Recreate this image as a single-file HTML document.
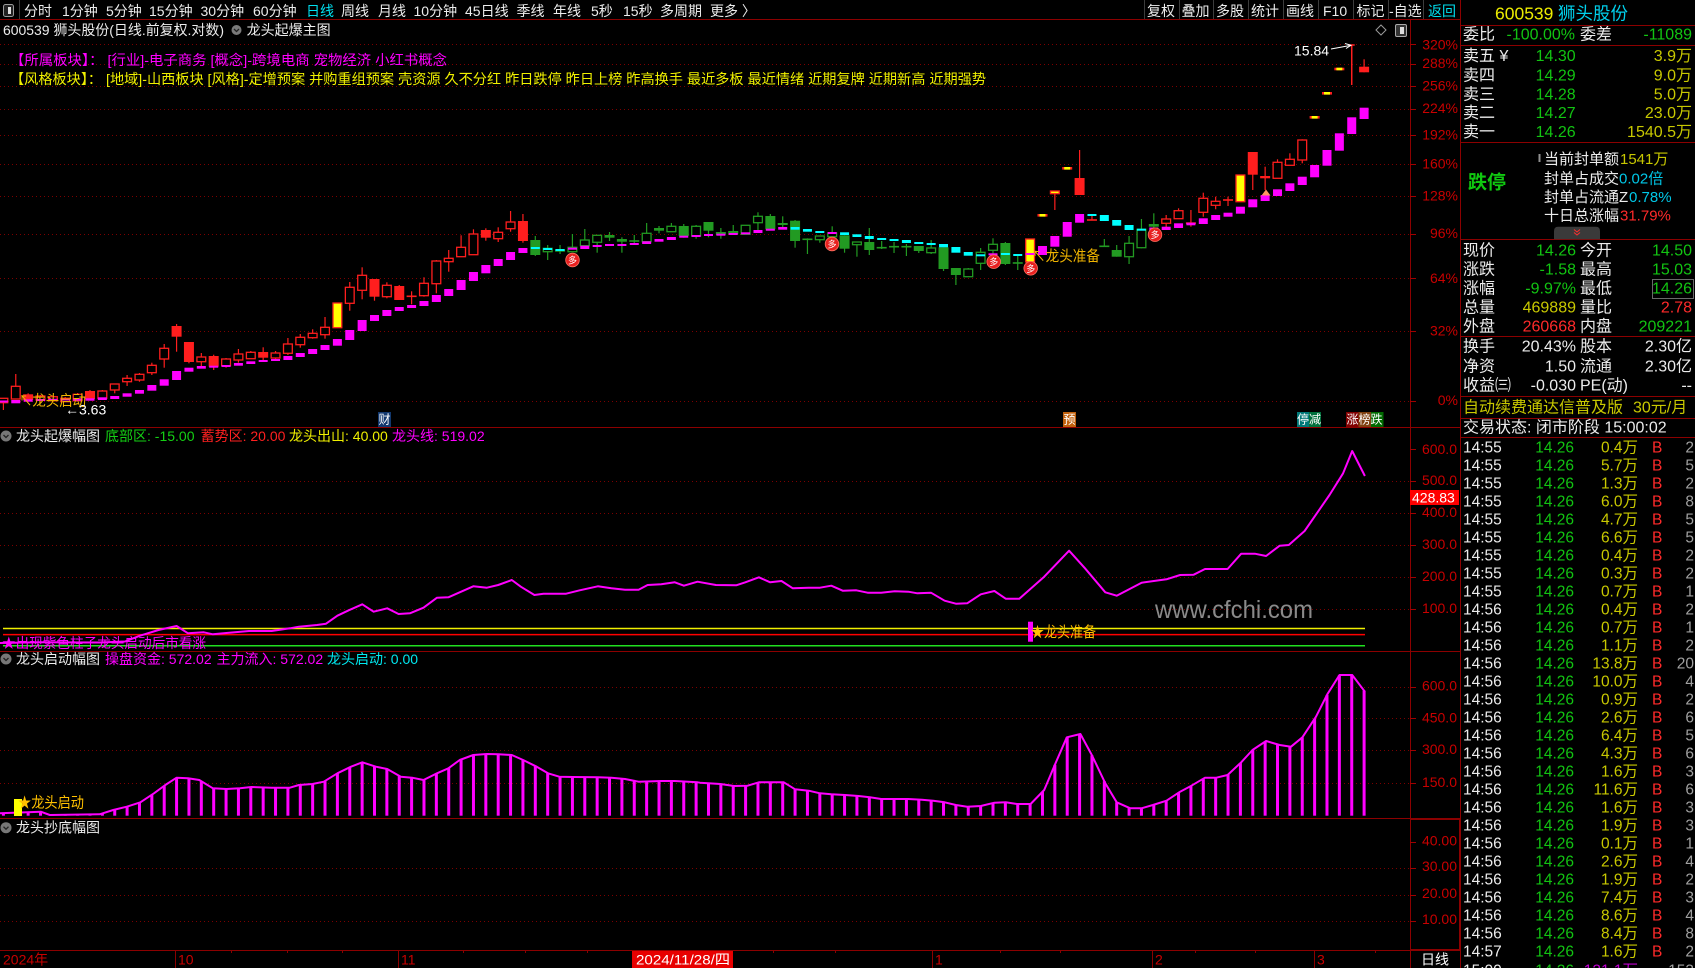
<!DOCTYPE html>
<html><head><meta charset="utf-8">
<style>
html,body{margin:0;padding:0;background:#000;}
#root{position:relative;width:1695px;height:968px;overflow:hidden;background:#000;}
svg{position:absolute;left:0;top:0;}
text{font-family:"Liberation Sans","Noto Sans CJK SC",sans-serif;dominant-baseline:central;}
.ax{fill:#c80000;font-size:14px;text-anchor:end;}
.w{fill:#ececec;}
.g{fill:#12c412;}
.o{fill:#c8c800;}
.r{fill:#ff2a2a;}
.c{fill:#00c8e8;}
.e{text-anchor:end;}
</style></head><body><div id="root">
<svg id="s" width="1695" height="968" viewBox="0 0 1695 968">
<!-- structure lines -->
<g stroke="#8c0000" stroke-width="1" shape-rendering="crispEdges">
<line x1="0" y1="19.5" x2="1460" y2="19.5"/>
<line x1="1410.5" y1="19.5" x2="1410.5" y2="968"/>
<line x1="1460.5" y1="0" x2="1460.5" y2="968"/>
<line x1="0" y1="427.5" x2="1460" y2="427.5"/>
<line x1="0" y1="651.5" x2="1460" y2="651.5"/>
<line x1="0" y1="818.5" x2="1460" y2="818.5"/>
<line x1="0" y1="950.5" x2="1460" y2="950.5"/>
<line x1="1460" y1="25.5" x2="1695" y2="25.5"/>
<line x1="1460" y1="45.5" x2="1695" y2="45.5"/>
<line x1="1460" y1="142.5" x2="1695" y2="142.5"/>
<line x1="1460" y1="239.5" x2="1695" y2="239.5"/>
<line x1="1460" y1="336.5" x2="1695" y2="336.5"/>
<line x1="1460" y1="396.5" x2="1695" y2="396.5"/>
<line x1="1460" y1="418.5" x2="1695" y2="418.5"/>
<line x1="1460" y1="437.5" x2="1695" y2="437.5"/>
<rect x="1410.5" y="819.5" width="49" height="130" fill="none"/>
<!-- bottom axis month lines -->
<line x1="175.5" y1="950" x2="175.5" y2="968"/>
<line x1="398.5" y1="950" x2="398.5" y2="968"/>
<line x1="932.5" y1="950" x2="932.5" y2="968"/>
<line x1="1152.5" y1="950" x2="1152.5" y2="968"/>
<line x1="1314.5" y1="950" x2="1314.5" y2="968"/>
<line x1="231.5" y1="950" x2="231.5" y2="953"/>
<line x1="287.5" y1="950" x2="287.5" y2="953"/>
<line x1="342.5" y1="950" x2="342.5" y2="953"/>
<line x1="463.5" y1="950" x2="463.5" y2="953"/>
<line x1="525.5" y1="950" x2="525.5" y2="953"/>
<line x1="587.5" y1="950" x2="587.5" y2="953"/>
<line x1="773.5" y1="950" x2="773.5" y2="953"/>
<line x1="835.5" y1="950" x2="835.5" y2="953"/>
<line x1="1000.5" y1="950" x2="1000.5" y2="953"/>
<line x1="1060.5" y1="950" x2="1060.5" y2="953"/>
<line x1="1195.5" y1="950" x2="1195.5" y2="953"/>
<line x1="1255.5" y1="950" x2="1255.5" y2="953"/>
<line x1="1375.5" y1="950" x2="1375.5" y2="953"/>
</g>
<!-- toolbar separators -->
<g stroke="#3c3c3c" stroke-width="1" shape-rendering="crispEdges">
<line x1="19.5" y1="0" x2="19.5" y2="19"/>
<line x1="1144.5" y1="0" x2="1144.5" y2="19"/>
<line x1="1179.5" y1="0" x2="1179.5" y2="19"/>
<line x1="1213.5" y1="0" x2="1213.5" y2="19"/>
<line x1="1248.5" y1="0" x2="1248.5" y2="19"/>
<line x1="1283.5" y1="0" x2="1283.5" y2="19"/>
<line x1="1318.5" y1="0" x2="1318.5" y2="19"/>
<line x1="1353.5" y1="0" x2="1353.5" y2="19"/>
<line x1="1388.5" y1="0" x2="1388.5" y2="19"/>
<line x1="1423.5" y1="0" x2="1423.5" y2="19"/>
</g>
<rect x="3.5" y="4.5" width="10" height="12" rx="2" fill="#222" stroke="#9a9a9a"/>
<rect x="8" y="7" width="3" height="7" fill="#e0e0e0"/>
<!-- grid dotted -->
<g id="grid" stroke="#7c0000" stroke-width="1" stroke-dasharray="1 3" shape-rendering="crispEdges"></g>
<g id="ticks" stroke="#a00000" stroke-width="1" shape-rendering="crispEdges"></g>

<!-- toolbar text -->
<g font-size="14" class="w">
<text x="24" y="11" class="w">分时</text>
<text x="62" y="11" class="w">1分钟</text>
<text x="106" y="11" class="w">5分钟</text>
<text x="149" y="11" class="w">15分钟</text>
<text x="200.5" y="11" class="w">30分钟</text>
<text x="253" y="11" class="w">60分钟</text>
<text x="306" y="11" fill="#00e0f0">日线</text>
<text x="341" y="11" class="w">周线</text>
<text x="378" y="11" class="w">月线</text>
<text x="413.5" y="11" class="w">10分钟</text>
<text x="465" y="11" class="w">45日线</text>
<text x="516.5" y="11" class="w">季线</text>
<text x="553" y="11" class="w">年线</text>
<text x="591" y="11" class="w">5秒</text>
<text x="623" y="11" class="w">15秒</text>
<text x="660" y="11" class="w">多周期</text>
<text x="710" y="11" class="w">更多 〉</text>
<text x="1147" y="11" class="w">复权</text>
<text x="1181.5" y="11" class="w">叠加</text>
<text x="1216" y="11" class="w">多股</text>
<text x="1251" y="11" class="w">统计</text>
<text x="1286" y="11" class="w">画线</text>
<text x="1323" y="11" class="w">F10</text>
<text x="1356.5" y="11" class="w">标记</text>
<text x="1389" y="11" class="w">-自选</text>
<text x="1428" y="11" fill="#00e0f0">返回</text>
</g>

<!-- chart title -->
<text x="3" y="30" font-size="14" class="w" textLength="221" lengthAdjust="spacingAndGlyphs">600539 狮头股份(日线.前复权.对数)</text>
<circle cx="236.5" cy="30" r="5" fill="#7a7a7a"/>
<polyline points="234,29 236.5,31.5 239,29" fill="none" stroke="#222" stroke-width="1.3"/>
<text x="246.6" y="30" font-size="14" class="w" textLength="84" lengthAdjust="spacingAndGlyphs">龙头起爆主图</text>
<polygon points="1381,25 1386,30 1381,35 1376,30" fill="none" stroke="#9a9a9a" stroke-width="1"/>
<rect x="1395.5" y="24.5" width="11" height="12" rx="1.5" fill="#333" stroke="#aaa"/>
<rect x="1400" y="27" width="4" height="7" fill="#ddd"/>

<text x="10" y="60" font-size="14" fill="#ff00ff" textLength="437" lengthAdjust="spacingAndGlyphs">【所属板块】：  [行业]-电子商务 [概念]-跨境电商 宠物经济 小红书概念</text>
<text x="10" y="79" font-size="14" fill="#f0f000" textLength="976" lengthAdjust="spacingAndGlyphs">【风格板块】：  [地域]-山西板块 [风格]-定增预案 并购重组预案 壳资源 久不分红 昨日跌停 昨日上榜 昨高换手 最近多板 最近情绪 近期复牌 近期新高 近期强势</text>

<!-- main y labels -->
<text x="1458" y="44.3" class="ax">320%</text>
<text x="1458" y="63" class="ax">288%</text>
<text x="1458" y="85.3" class="ax">256%</text>
<text x="1458" y="108" class="ax">224%</text>
<text x="1458" y="134.3" class="ax">192%</text>
<text x="1458" y="163.3" class="ax">160%</text>
<text x="1458" y="195.5" class="ax">128%</text>
<text x="1458" y="233" class="ax">96%</text>
<text x="1458" y="278" class="ax">64%</text>
<text x="1458" y="330.5" class="ax">32%</text>
<text x="1458" y="400" class="ax">0%</text>

<!-- ind1 labels -->
<text x="1457" y="449" class="ax">600.0</text>
<text x="1457" y="480" class="ax">500.0</text>
<text x="1457" y="512" class="ax">400.0</text>
<text x="1457" y="544" class="ax">300.0</text>
<text x="1457" y="576" class="ax">200.0</text>
<text x="1457" y="608" class="ax">100.0</text>
<rect x="1410" y="490" width="49" height="15" fill="#ff0000"/>
<text x="1412" y="497.5" font-size="14" fill="#fff">428.83</text>
<!-- ind2 labels -->
<text x="1457" y="685.5" class="ax">600.0</text>
<text x="1457" y="717.5" class="ax">450.0</text>
<text x="1457" y="749" class="ax">300.0</text>
<text x="1457" y="782" class="ax">150.0</text>
<!-- ind3 labels -->
<text x="1457" y="840.5" class="ax">40.00</text>
<text x="1457" y="866" class="ax">30.00</text>
<text x="1457" y="893" class="ax">20.00</text>
<text x="1457" y="919" class="ax">10.00</text>

<!-- indicator titles -->
<g>
<circle cx="6" cy="436" r="5.5" fill="#777"/><polyline points="3.5,435 6,437.5 8.5,435" fill="none" stroke="#222" stroke-width="1.3"/>
<text x="16" y="436" font-size="14" class="w" textLength="84" lengthAdjust="spacingAndGlyphs">龙头起爆幅图</text>
<text x="105" y="436" font-size="14" fill="#14d014">底部区: -15.00</text>
<text x="200.6" y="436" font-size="14" fill="#ff2020">蓄势区: 20.00</text>
<text x="289" y="436" font-size="14" fill="#f0f000">龙头出山: 40.00</text>
<text x="392" y="436" font-size="14" fill="#ff00ff">龙头线: 519.02</text>

<circle cx="6" cy="659" r="5.5" fill="#777"/><polyline points="3.5,658 6,660.5 8.5,658" fill="none" stroke="#222" stroke-width="1.3"/>
<text x="16" y="659" font-size="14" class="w" textLength="84" lengthAdjust="spacingAndGlyphs">龙头启动幅图</text>
<text x="105" y="659" font-size="14" fill="#ff00ff">操盘资金: 572.02</text>
<text x="216.5" y="659" font-size="14" fill="#ff00ff">主力流入: 572.02</text>
<text x="327" y="659" font-size="14" fill="#00e8f0">龙头启动: 0.00</text>

<circle cx="6" cy="827.7" r="5.5" fill="#777"/><polyline points="3.5,826.7 6,829.2 8.5,826.7" fill="none" stroke="#222" stroke-width="1.3"/>
<text x="16" y="827.7" font-size="14" class="w" textLength="84" lengthAdjust="spacingAndGlyphs">龙头抄底幅图</text>
</g>

<!-- ind1 horizontal level lines -->
<line x1="3" y1="628.5" x2="1365" y2="628.5" stroke="#f0f000" stroke-width="1.5"/>
<line x1="3" y1="634.6" x2="1365" y2="634.6" stroke="#ff0000" stroke-width="1.5"/>
<line x1="3" y1="645.8" x2="1365" y2="645.8" stroke="#20e020" stroke-width="1.5"/>

<text x="1155" y="610" font-size="25" fill="#8a8a8a" textLength="158" lengthAdjust="spacingAndGlyphs">www.cfchi.com</text>

<g id="candles"></g>
<g id="blocks"></g>
<g id="ind"></g>

<!-- markers on main chart -->
<g id="duo"></g>
<text x="19" y="401" font-size="15" fill="#f0b400" textLength="67" lengthAdjust="spacingAndGlyphs">↖龙头启动</text>
<text x="65" y="409.5" font-size="14" fill="#ffffff">←3.63</text>
<text x="1032" y="256.7" font-size="15" fill="#f0b400" textLength="68" lengthAdjust="spacingAndGlyphs">↖龙头准备</text>
<text x="1294" y="50.7" font-size="14" fill="#ffffff">15.84</text>
<line x1="1331" y1="49" x2="1350" y2="45.5" stroke="#fff" stroke-width="1"/>
<polyline points="1345,43.5 1351,45.3 1346,48.5" fill="none" stroke="#fff" stroke-width="1"/>
<polygon points="1266,189.5 1270.5,195.5 1261.5,195.5" fill="#ff9a60"/>

<!-- bottom tags main -->
<rect x="378" y="412" width="13" height="15" fill="#12386e"/>
<text x="378.5" y="419.5" font-size="12" fill="#fff">财</text>
<rect x="1063" y="412" width="13" height="15" fill="#c0600c"/>
<text x="1063.5" y="419.5" font-size="12" fill="#fff">预</text>
<rect x="1297" y="412" width="12" height="15" fill="#007878"/>
<rect x="1309" y="412" width="12" height="15" fill="#00703c"/>
<text x="1297" y="419.5" font-size="12" fill="#fff">停减</text>
<rect x="1346" y="412" width="12.5" height="15" fill="#800000"/>
<rect x="1358.5" y="412" width="12.5" height="15" fill="#804010"/>
<rect x="1371" y="412" width="12.5" height="15" fill="#006a00"/>
<text x="1346.5" y="419.5" font-size="12" fill="#fff">涨榜跌</text>

<!-- ind1 labels -->
<rect x="1028" y="621.7" width="5" height="20" fill="#ff00ff"/>
<text x="1031" y="632.5" font-size="15" fill="#ffc000" textLength="65" lengthAdjust="spacingAndGlyphs">★龙头准备</text>
<text x="2" y="643" font-size="14" fill="#ff00ff" textLength="204" lengthAdjust="spacingAndGlyphs">★出现紫色柱子龙头启动后市看涨</text>
<!-- ind2 label -->
<rect x="14" y="799" width="8" height="17" fill="#ffff00"/>
<text x="18" y="803" font-size="15" fill="#ffc000" textLength="66" lengthAdjust="spacingAndGlyphs">★龙头启动</text>

<!-- bottom axis text -->
<text x="3" y="959.5" font-size="14" fill="#c80000">2024年</text>
<text x="178" y="959.5" font-size="14" fill="#c80000">10</text>
<text x="401" y="959.5" font-size="14" fill="#c80000">11</text>
<rect x="632" y="951" width="101" height="17" fill="#e80000"/>
<text x="636" y="959.5" font-size="14" fill="#ffffff" textLength="94" lengthAdjust="spacingAndGlyphs">2024/11/28/四</text>
<text x="935" y="959.5" font-size="14" fill="#c80000">1</text>
<text x="1155" y="959.5" font-size="14" fill="#c80000">2</text>
<text x="1317" y="959.5" font-size="14" fill="#c80000">3</text>
<text x="1421" y="959.5" font-size="14" fill="#ffffff">日线</text>

<!-- RIGHT PANEL -->
<text x="1495" y="13.5" font-size="17.5" fill="#ecec00">600539</text>
<text x="1558" y="13.5" font-size="17.5" fill="#00d0ec">狮头股份</text>

<g font-size="16">
<text x="1463" y="35" class="w">委比</text>
<text x="1575" y="35" class="g e">-100.00%</text>
<text x="1580" y="35" class="w">委差</text>
<text x="1692" y="35" class="g e">-11089</text>

<text x="1463" y="56.7" class="w">卖五 ¥</text>
<text x="1575.7" y="56.7" class="g e">14.30</text>
<text x="1692" y="56.7" class="o e">3.9万</text>
<text x="1463" y="76" class="w">卖四</text>
<text x="1575.7" y="76" class="g e">14.29</text>
<text x="1692" y="76" class="o e">9.0万</text>
<text x="1463" y="95" class="w">卖三</text>
<text x="1575.7" y="95" class="g e">14.28</text>
<text x="1692" y="95" class="o e">5.0万</text>
<text x="1463" y="113.3" class="w">卖二</text>
<text x="1575.7" y="113.3" class="g e">14.27</text>
<text x="1692" y="113.3" class="o e">23.0万</text>
<text x="1463" y="132.3" class="w">卖一</text>
<text x="1575.7" y="132.3" class="g e">14.26</text>
<text x="1692" y="132.3" class="o e">1540.5万</text>
</g>

<text x="1468" y="183" font-size="19" font-weight="bold" fill="#10c810">跌停</text>
<rect x="1538.5" y="154" width="2" height="8" fill="#909090"/>
<g font-size="15">
<text x="1544" y="159.3" class="w">当前封单额</text><text x="1620" y="159.3" class="o">1541万</text>
<text x="1544" y="179" class="w">封单占成交</text><text x="1619" y="179" class="c">0.02倍</text>
<text x="1544" y="197.7" class="w">封单占流通Z</text><text x="1629" y="197.7" class="c">0.78%</text>
<text x="1544" y="216" class="w">十日总涨幅</text><text x="1620" y="216" class="r">31.79%</text>
</g>
<path d="M1554,239.3 L1554,231 Q1554,226.7 1558,226.7 L1596,226.7 Q1600,226.7 1600,231 L1600,239.3 Z" fill="#3a3a3a"/>
<polyline points="1574,229.5 1577,232 1580,229.5" fill="none" stroke="#ff3030" stroke-width="1"/>
<polyline points="1574,232.5 1577,235 1580,232.5" fill="none" stroke="#ff3030" stroke-width="1"/>

<g font-size="16">
<text x="1463" y="251" class="w">现价</text><text x="1576" y="251" class="g e">14.26</text><text x="1580" y="251" class="w">今开</text><text x="1692" y="251" class="g e">14.50</text>
<text x="1463" y="270" class="w">涨跌</text><text x="1576" y="270" class="g e">-1.58</text><text x="1580" y="270" class="w">最高</text><text x="1692" y="270" class="g e">15.03</text>
<text x="1463" y="289" class="w">涨幅</text><text x="1576" y="289" class="g e">-9.97%</text><text x="1580" y="289" class="w">最低</text><text x="1692" y="289" class="g e">14.26</text>
<text x="1463" y="308" class="w">总量</text><text x="1576" y="308" class="o e">469889</text><text x="1580" y="308" class="w">量比</text><text x="1692" y="308" class="r e">2.78</text>
<text x="1463" y="327" class="w">外盘</text><text x="1576" y="327" class="r e">260668</text><text x="1580" y="327" class="w">内盘</text><text x="1692" y="327" class="g e">209221</text>
<text x="1463" y="347" class="w">换手</text><text x="1576" y="347" class="w e">20.43%</text><text x="1580" y="347" class="w">股本</text><text x="1692" y="347" class="w e">2.30亿</text>
<text x="1463" y="367" class="w">净资</text><text x="1576" y="367" class="w e">1.50</text><text x="1580" y="367" class="w">流通</text><text x="1692" y="367" class="w e">2.30亿</text>
<text x="1463" y="386" class="w">收益㈢</text><text x="1576" y="386" class="w e">-0.030</text><text x="1580" y="386" class="w">PE(动)</text><text x="1692" y="386" class="w e">--</text>
<text x="1463" y="408" class="o">自动续费通达信普及版</text><text x="1633" y="408" class="o">30元/月</text>
<text x="1463" y="428" class="w">交易状态: 闭市阶段 15:00:02</text>
</g>
<rect x="1652.5" y="279.5" width="41" height="19" fill="none" stroke="#6a6a6a"/>

<!-- tick table -->
<g font-size="15.5">
<text x="1463" y="448" class="w">14:55</text><text x="1574" y="448" class="g e">14.26</text><text x="1638" y="448" class="o e">0.4万</text><text x="1652" y="448" class="r">B</text><text x="1694" y="448" fill="#a0a0a0" text-anchor="end">2</text>
<text x="1463" y="466" class="w">14:55</text><text x="1574" y="466" class="g e">14.26</text><text x="1638" y="466" class="o e">5.7万</text><text x="1652" y="466" class="r">B</text><text x="1694" y="466" fill="#a0a0a0" text-anchor="end">5</text>
<text x="1463" y="484" class="w">14:55</text><text x="1574" y="484" class="g e">14.26</text><text x="1638" y="484" class="o e">1.3万</text><text x="1652" y="484" class="r">B</text><text x="1694" y="484" fill="#a0a0a0" text-anchor="end">2</text>
<text x="1463" y="502" class="w">14:55</text><text x="1574" y="502" class="g e">14.26</text><text x="1638" y="502" class="o e">6.0万</text><text x="1652" y="502" class="r">B</text><text x="1694" y="502" fill="#a0a0a0" text-anchor="end">8</text>
<text x="1463" y="520" class="w">14:55</text><text x="1574" y="520" class="g e">14.26</text><text x="1638" y="520" class="o e">4.7万</text><text x="1652" y="520" class="r">B</text><text x="1694" y="520" fill="#a0a0a0" text-anchor="end">5</text>
<text x="1463" y="538" class="w">14:55</text><text x="1574" y="538" class="g e">14.26</text><text x="1638" y="538" class="o e">6.6万</text><text x="1652" y="538" class="r">B</text><text x="1694" y="538" fill="#a0a0a0" text-anchor="end">5</text>
<text x="1463" y="556" class="w">14:55</text><text x="1574" y="556" class="g e">14.26</text><text x="1638" y="556" class="o e">0.4万</text><text x="1652" y="556" class="r">B</text><text x="1694" y="556" fill="#a0a0a0" text-anchor="end">2</text>
<text x="1463" y="574" class="w">14:55</text><text x="1574" y="574" class="g e">14.26</text><text x="1638" y="574" class="o e">0.3万</text><text x="1652" y="574" class="r">B</text><text x="1694" y="574" fill="#a0a0a0" text-anchor="end">2</text>
<text x="1463" y="592" class="w">14:55</text><text x="1574" y="592" class="g e">14.26</text><text x="1638" y="592" class="o e">0.7万</text><text x="1652" y="592" class="r">B</text><text x="1694" y="592" fill="#a0a0a0" text-anchor="end">1</text>
<text x="1463" y="610" class="w">14:56</text><text x="1574" y="610" class="g e">14.26</text><text x="1638" y="610" class="o e">0.4万</text><text x="1652" y="610" class="r">B</text><text x="1694" y="610" fill="#a0a0a0" text-anchor="end">2</text>
<text x="1463" y="628" class="w">14:56</text><text x="1574" y="628" class="g e">14.26</text><text x="1638" y="628" class="o e">0.7万</text><text x="1652" y="628" class="r">B</text><text x="1694" y="628" fill="#a0a0a0" text-anchor="end">1</text>
<text x="1463" y="646" class="w">14:56</text><text x="1574" y="646" class="g e">14.26</text><text x="1638" y="646" class="o e">1.1万</text><text x="1652" y="646" class="r">B</text><text x="1694" y="646" fill="#a0a0a0" text-anchor="end">2</text>
<text x="1463" y="664" class="w">14:56</text><text x="1574" y="664" class="g e">14.26</text><text x="1638" y="664" class="o e">13.8万</text><text x="1652" y="664" class="r">B</text><text x="1694" y="664" fill="#a0a0a0" text-anchor="end">20</text>
<text x="1463" y="682" class="w">14:56</text><text x="1574" y="682" class="g e">14.26</text><text x="1638" y="682" class="o e">10.0万</text><text x="1652" y="682" class="r">B</text><text x="1694" y="682" fill="#a0a0a0" text-anchor="end">4</text>
<text x="1463" y="700" class="w">14:56</text><text x="1574" y="700" class="g e">14.26</text><text x="1638" y="700" class="o e">0.9万</text><text x="1652" y="700" class="r">B</text><text x="1694" y="700" fill="#a0a0a0" text-anchor="end">2</text>
<text x="1463" y="718" class="w">14:56</text><text x="1574" y="718" class="g e">14.26</text><text x="1638" y="718" class="o e">2.6万</text><text x="1652" y="718" class="r">B</text><text x="1694" y="718" fill="#a0a0a0" text-anchor="end">6</text>
<text x="1463" y="736" class="w">14:56</text><text x="1574" y="736" class="g e">14.26</text><text x="1638" y="736" class="o e">6.4万</text><text x="1652" y="736" class="r">B</text><text x="1694" y="736" fill="#a0a0a0" text-anchor="end">5</text>
<text x="1463" y="754" class="w">14:56</text><text x="1574" y="754" class="g e">14.26</text><text x="1638" y="754" class="o e">4.3万</text><text x="1652" y="754" class="r">B</text><text x="1694" y="754" fill="#a0a0a0" text-anchor="end">6</text>
<text x="1463" y="772" class="w">14:56</text><text x="1574" y="772" class="g e">14.26</text><text x="1638" y="772" class="o e">1.6万</text><text x="1652" y="772" class="r">B</text><text x="1694" y="772" fill="#a0a0a0" text-anchor="end">3</text>
<text x="1463" y="790" class="w">14:56</text><text x="1574" y="790" class="g e">14.26</text><text x="1638" y="790" class="o e">11.6万</text><text x="1652" y="790" class="r">B</text><text x="1694" y="790" fill="#a0a0a0" text-anchor="end">6</text>
<text x="1463" y="808" class="w">14:56</text><text x="1574" y="808" class="g e">14.26</text><text x="1638" y="808" class="o e">1.6万</text><text x="1652" y="808" class="r">B</text><text x="1694" y="808" fill="#a0a0a0" text-anchor="end">3</text>
<text x="1463" y="826" class="w">14:56</text><text x="1574" y="826" class="g e">14.26</text><text x="1638" y="826" class="o e">1.9万</text><text x="1652" y="826" class="r">B</text><text x="1694" y="826" fill="#a0a0a0" text-anchor="end">3</text>
<text x="1463" y="844" class="w">14:56</text><text x="1574" y="844" class="g e">14.26</text><text x="1638" y="844" class="o e">0.1万</text><text x="1652" y="844" class="r">B</text><text x="1694" y="844" fill="#a0a0a0" text-anchor="end">1</text>
<text x="1463" y="862" class="w">14:56</text><text x="1574" y="862" class="g e">14.26</text><text x="1638" y="862" class="o e">2.6万</text><text x="1652" y="862" class="r">B</text><text x="1694" y="862" fill="#a0a0a0" text-anchor="end">4</text>
<text x="1463" y="880" class="w">14:56</text><text x="1574" y="880" class="g e">14.26</text><text x="1638" y="880" class="o e">1.9万</text><text x="1652" y="880" class="r">B</text><text x="1694" y="880" fill="#a0a0a0" text-anchor="end">2</text>
<text x="1463" y="898" class="w">14:56</text><text x="1574" y="898" class="g e">14.26</text><text x="1638" y="898" class="o e">7.4万</text><text x="1652" y="898" class="r">B</text><text x="1694" y="898" fill="#a0a0a0" text-anchor="end">3</text>
<text x="1463" y="916" class="w">14:56</text><text x="1574" y="916" class="g e">14.26</text><text x="1638" y="916" class="o e">8.6万</text><text x="1652" y="916" class="r">B</text><text x="1694" y="916" fill="#a0a0a0" text-anchor="end">4</text>
<text x="1463" y="934" class="w">14:56</text><text x="1574" y="934" class="g e">14.26</text><text x="1638" y="934" class="o e">8.4万</text><text x="1652" y="934" class="r">B</text><text x="1694" y="934" fill="#a0a0a0" text-anchor="end">8</text>
<text x="1463" y="952" class="w">14:57</text><text x="1574" y="952" class="g e">14.26</text><text x="1638" y="952" class="o e">1.6万</text><text x="1652" y="952" class="r">B</text><text x="1694" y="952" fill="#a0a0a0" text-anchor="end">2</text>
<text x="1463" y="971" class="w">15:00</text><text x="1574" y="971" class="g e">14.26</text><text x="1638" y="971" fill="#c000d0" text-anchor="end">121.1万</text><text x="1694" y="971" fill="#a0a0a0" text-anchor="end">153</text>
</g>
</svg></div>
<script>
(function(){
const NS='http://www.w3.org/2000/svg';
function E(t,a,p){const e=document.createElementNS(NS,t);for(const k in a)e.setAttribute(k,a[k]);p.appendChild(e);return e;}
const X=i=>3.4+12.37*i;
const R='#ff1e1e',G='#229a22',Y='#ffff00',M='#ff00ff',CY='#00ffff';
const grid=document.getElementById('grid'),ticks=document.getElementById('ticks');
const gy=[44,63.5,85.5,108.5,134.5,163.5,196,234,278,331,401,481,513,545,577,609,686.7,718.3,750,783.3,868,895,921];
gy.forEach(y=>{const yy=Math.round(y)+0.5;E('line',{x1:0,x2:1410,y1:yy,y2:yy},grid);});
const ty=[44,63.5,85.5,108.5,134.5,163.5,196,234,278,331,401,449,481,513,545,577,609,686.7,718.3,750,783.3,842,868,895,921];
ty.forEach(y=>{const yy=Math.round(y)+0.5;E('line',{x1:1410,x2:1416,y1:yy,y2:yy},ticks);});

const CD=[
['h',398.3,402.7,398.3,410],['h',386.3,399,374,399],['f',394.3,400,393.3,401.7],['h',396,400,395,401],['h',396.7,400.7,395,402],
['h',398.3,401.7,397,402],['h',394.3,400.7,393,401],['f',391,399,390,399],['h',391,398.3,390,399],['h',384,390,384,393.3],
['h',378.3,381.7,375,386],['h',374.3,380,373,381.7],['h',365.3,372.7,362.7,375],['h',348.3,359,344,367.7],['f',326,336.7,324,351.7],
['f',342,362,342,363.3],['h',357,361.7,353,366],['f',356,366.7,354.7,370],['h',359,365.7,358,367.7],['h',354,360,349,362.7],
['h',352.3,358.7,351,359],['f',352,357.7,347.3,360],['h',353,358,351,360],['h',344,353.3,338,355],['h',337.3,344.7,334,347.7],
['h',333.3,337.7,329.3,338.7],['h',327.3,334.7,317,338.7],['y',303,327.7,303,327.7],['h',287.3,303.3,282,310.7],['h',275.3,290.3,267.3,299.3],
['f',279,296.7,279,300.7],['h',285.3,296.7,282.3,298.3],['f',286,300,285,300],['x',296.3,296.3,291.3,304.3],['h',283.3,295.7,277.3,296.7],
['h',261,283.7,260,293.3],['h',258.3,261.7,250,271.7],['h',247.3,256.7,235.3,256.7],['h',234,254.7,229.3,254.7],['f',230,237.7,228.3,240.7],
['h',232.3,238.7,227.3,242],['h',222,228.7,211,231.7],['f',221,241,214,242.7],['g',240,255,236,256],['hg',248.3,251.7,245,260],
['g',249.3,251.7,245,254],['hg',247.3,251.7,234,251.7],['hg',240,245.7,229,245.7],['hg',235.3,242.3,235.3,252.7],['g',235,237.7,232,241],
['g',239,241.7,237.3,252.7],['xg',241,241,235,244],['hg',233.3,241.7,223,241.7],['g',228,230.7,226,233.3],['hg',226.3,231.7,223,231.7],
['g',226,236,224,237.7],['hg',226.3,236,225,238.7],['g',222,230.7,222,237.3],['g',232,234.7,228,238.7],['g',231,234.3,225,234.3],
['hg',225.3,234.3,225.3,234.3],['hg',216.3,222.7,212.3,230],['g',216,229.3,214,230],['g',223,225,216.3,227.3],['g',220.7,241,220,247.7],
['xg',239.3,239.3,238.3,254],['hg',236,239.7,236,242.7],['hg',233,236.7,226.3,236.7],['g',235.3,248.7,235.3,252.7],['hg',242,244.7,242,256.7],
['g',242,250,228,255],['xg',247.7,247.7,241,249],['xg',246.7,246.7,242,253],['xg',246.7,246.7,244,256],['g',246,251,246,253],
['hg',248,252.7,240,254],['g',247.3,269,247.3,271],['g',268,275,268,285],['hg',269,276.7,268,276.7],['hg',252.3,263.3,248,270],
['hg',244.3,250.3,238.3,256.7],['g',243,264,242,265],['xg',263,263,255,270],['y',239,262,239,262],['d',215.3],
['y',191,193.7,191,210],['d',168.3],['f',178,195,150,195],['x',220,220,215.3,220],['xg',246.3,246.3,239,246.3],
['g',250,256.7,245,256.7],['hg',243.3,256.7,236,264],['hg',229.3,247.7,219,248.3],['g',224,226.7,213.3,230],['h',219,223.3,215,230],
['h',210.7,218.7,208.3,218.7],['f',222.3,224,210,226.7],['h',198.3,212.3,192.7,216.7],['h',201.3,205.3,196.7,209.3],['x',200,200,196.7,206],
['y',175,201.7,175,201.7],['f',152,174.7,152,190],['f',176,178.3,166.7,190],['h',162.3,178.3,159.3,178.3],['h',159.3,165.3,153.3,165.3],
['h',140,160,139.3,163.3],['d',117.3],['d',93.3],['d',69],['w',45,45,45,85],['f',66.7,72.3,59.3,72.3]
];
const gC=document.getElementById('candles');
CD.forEach((d,i)=>{
 const x=X(i),t=d[0],L=x-5,W=10;
 if(t==='h'||t==='hg'){const c=t==='h'?R:G;const bt=d[1],bb=d[2];
  if(d[3]<bt)E('line',{x1:x,x2:x,y1:d[3],y2:bt,stroke:c,'stroke-width':1.2},gC);
  if(d[4]>bb)E('line',{x1:x,x2:x,y1:bb,y2:d[4],stroke:c,'stroke-width':1.2},gC);
  E('rect',{x:L+0.6,y:bt,width:W-1.2,height:Math.max(1,bb-bt),fill:'#000',stroke:c,'stroke-width':1.3},gC);}
 else if(t==='f'||t==='g'){const c=t==='f'?R:G;
  E('line',{x1:x,x2:x,y1:d[3],y2:d[4],stroke:c,'stroke-width':1.2},gC);
  E('rect',{x:L,y:d[1],width:W,height:Math.max(1.8,d[2]-d[1]),fill:c},gC);}
 else if(t==='x'||t==='xg'){const c=t==='x'?R:G;
  E('line',{x1:x,x2:x,y1:d[3],y2:d[4],stroke:c,'stroke-width':1.2},gC);
  E('line',{x1:L,x2:L+W,y1:d[1],y2:d[1],stroke:c,'stroke-width':1.6},gC);}
 else if(t==='y'){
  if(d[4]>d[2])E('line',{x1:x,x2:x,y1:d[2],y2:d[4],stroke:R,'stroke-width':1.2},gC);
  E('rect',{x:L+0.6,y:d[1],width:W-1.2,height:Math.max(2,d[2]-d[1]),fill:Y,stroke:R,'stroke-width':1.3},gC);}
 else if(t==='d'){
  E('rect',{x:L,y:d[1]-1.3,width:W,height:2.6,fill:R},gC);
  E('rect',{x:L+2,y:d[1]-1.3,width:W-4,height:2.6,fill:Y},gC);}
 else if(t==='w'){
  E('line',{x1:x,x2:x,y1:d[3],y2:d[4],stroke:R,'stroke-width':1.5},gC);
  E('line',{x1:L+2,x2:L+W-2,y1:d[1],y2:d[1],stroke:R,'stroke-width':1.5},gC);}
});

const MB=[
[400.5,402.5],[400,403.3],[399.3,401.7],[399,401],[398.8,400.8],[398.5,400.5],[398.3,400.7],[398.3,400.7],[397.3,400],[396,399],
[393.3,396.7],[390,393.7],[385,390.7],[379.3,385.7],[371,380],[367.7,371.7],[366,368.7],[365.7,367.3],[365,366.7],[363,365.7],
[361.3,364],[360,362],[359,361],[356,360],[353,357],[349,354],[345,350],[339,345.7],[330,340],[320,331],
[315,321],[310,316],[307,311],[305,308],[301,306],[295,302],[289,296],[280,290],[272,281],[265,273.3],
[259,266],[252,260],[248,253],[247,248.7,1],[248,249.3,1],[249,250.5,1],[247.7,249.3],[245.7,249],[245,247],[244,246],
[244,245.5],[243,245],[241.3,244],[239,241.7],[237,240],[235.7,237.7],[235,236.7],[234,236],[233.7,235.2],[233,234.7],
[232.3,234],[230,233],[228.7,230.7],[227,229.7],[227,229.7,1],[229,231.7,1],[231,232.7,1],[232,233.5],[232.3,235,1],[234.3,237,1],
[236,239,1],[238,240,1],[239,241,1],[240,243,1],[242,244,1],[243,245,1],[244,247.3,1],[247,252.7,1],[252,255.7,1],[254.3,256,1],
[253.3,255],[253,255,1],[254,255.7,1],[253,255],[246,255],[236,246.7],[222,236.7],[214,222.7],[214,216,1],[215,221,1],
[220,225.7,1],[225,230,1],[228.7,230.7,1],[227.5,230],[226.7,230],[223.3,228],[222.7,225.3],[218.3,224],[215,220],[212.7,216.7],
[206.7,213.7],[199.3,207.3],[195,201],[189.3,196],[183.3,191],[176.7,185],[165,177.3],[150,165.7],[133.3,150.7],[117.3,134],
[107.7,119]
];
const gB=document.getElementById('blocks');
MB.forEach((b,i)=>{const x=X(i);const h=Math.max(2,b[1]-b[0]);
 E('rect',{x:x-4.5,y:b[0],width:9,height:h,fill:b[2]?CY:M},gB);});

const P1=[[0,643],[40,642.3],[100,642.5],[125,641.5],[140,635.7],[158.5,630],[176.6,626],[188,633.3],[203.8,632.3],[212.9,634.3],[226.4,633],[249,631],[271.7,631],[289.9,628.3],[298.9,626.7],[317,625],[326,623.7],[337.4,615.7],[348.7,610.3],[362.3,604.3],[373.6,611.7],[387.2,608.3],[398.6,614],[409.9,613.3],[423.5,607.7],[437,597.7],[448.4,597.3],[473.3,586.3],[486.9,587.7],[498.2,585],[511.8,580],[520.8,586.7],[534.4,595],[543.5,593.7],[566.1,593.7],[579.7,590.3],[597.8,586.3],[611.4,588.3],[625,589.7],[638.6,589.7],[647.6,585],[661.2,584.3],[674.8,582.3],[683.9,585.7],[697.5,581.7],[715.9,585],[736.2,585.3],[745.3,582.3],[758.9,577.3],[770.2,582.3],[781.5,581],[792.8,588.3],[808.7,587.7],[820,587.7],[831.3,585.7],[842.7,590.7],[856.3,590.3],[867.6,592.7],[881.2,592.7],[894.7,591.3],[908.3,591.7],[917.4,593.3],[931,592.7],[944.6,600.7],[955.9,603.7],[967.2,603.3],[980.8,594.3],[994.4,591],[1005.7,598.7],[1019.3,598.7],[1044.2,576.7],[1069.1,550.7],[1085,568.3],[1105.3,592.3],[1116.7,595.7],[1141.6,582.7],[1166.5,579.3],[1180.1,575],[1193.7,574.7],[1205,569],[1227.6,569],[1241.2,553.7],[1254.8,553.7],[1266.1,556],[1279.7,545.7],[1288.8,545],[1304.6,531],[1329.5,495],[1343.1,473.3],[1352.2,451],[1364.9,476]];
const P2=[[0,813.3],[40.8,811.7],[49.8,815],[99.6,814.3],[113.2,810],[126.8,806.7],[140.4,802.3],[154,793.3],[165.3,785],[176.6,777.7],[188,778.3],[199.3,780],[212.9,788.3],[226.4,789],[240,788.3],[251.4,787],[271.7,787.7],[289.9,787.7],[298.9,785],[312.5,784],[323.8,781.7],[337.4,773.3],[351,766.7],[362.3,762.3],[375.9,766.7],[387.2,769],[400.8,776.7],[412.1,777.7],[423.5,780],[437,773.3],[448.4,768.3],[459.7,760],[473.3,755],[486.9,754],[498.2,754.3],[511.8,755],[523.1,760],[536.7,766.7],[548,773.3],[559.3,776.7],[572.9,777],[597.8,777.3],[611.4,777.7],[625,779],[638.6,781.7],[661.2,781],[674.8,781],[697.5,782.3],[700,782.7],[720.4,784],[734,786],[747.6,785.7],[758.9,782.3],[783.8,782.3],[795.1,789.3],[808.7,790.7],[820,793.3],[831.3,794.3],[844.9,795],[858.5,796],[869.8,797.3],[881.2,799],[908.3,799],[921.9,799.7],[933.2,800.7],[944.6,802.3],[955.9,805],[967.2,806.7],[980.8,806],[994.4,802.7],[1005.7,802.3],[1017,804],[1030.6,804],[1044.2,790],[1055.5,763.3],[1066.8,737.3],[1080.4,734],[1091.8,755],[1105.3,783.3],[1116.7,802.3],[1130.3,808.3],[1141.6,808.3],[1152.9,805],[1166.5,800.7],[1180.1,791.7],[1191.4,785.7],[1205,777.7],[1216.3,777.7],[1227.6,775],[1241.2,762.3],[1252.5,750],[1266.1,741],[1279.7,745],[1291,746.7],[1302.4,737.3],[1316,716.7],[1327.3,694.3],[1339.5,675],[1352.2,675],[1364.9,691.7]];
function interp(P,x){for(let k=1;k<P.length;k++){if(x<=P[k][0]){const a=P[k-1],b=P[k];return a[1]+(b[1]-a[1])*(x-a[0])/(b[0]-a[0]);}}return P[P.length-1][1];}
const gI=document.getElementById('ind');
E('polyline',{points:P1.map(p=>p.join(',')).join(' '),fill:'none',stroke:M,'stroke-width':2,'stroke-linejoin':'round'},gI);
for(let i=0;i<=110;i++){const x=X(i);const t=interp(P2,x);const h=Math.max(0.8,815.7-t);
 E('rect',{x:x-1.5,y:815.7-h,width:3,height:h,fill:M},gI);}
E('polyline',{points:P2.map(p=>p.join(',')).join(' '),fill:'none',stroke:M,'stroke-width':2,'stroke-linejoin':'round'},gI);

const gD=document.getElementById('duo');
[[572.5,260],[832,244],[993.7,261.7],[1030.7,268.3],[1155,234.7]].forEach(p=>{
 E('circle',{cx:p[0],cy:p[1],r:6.8,fill:'#e82020',stroke:'#ff7060','stroke-width':0.8},gD);
 const t=E('text',{x:p[0],y:p[1]+0.5,'font-size':9,fill:'#fff','text-anchor':'middle'},gD);t.textContent='多';
});
})();
</script>
</body></html>
